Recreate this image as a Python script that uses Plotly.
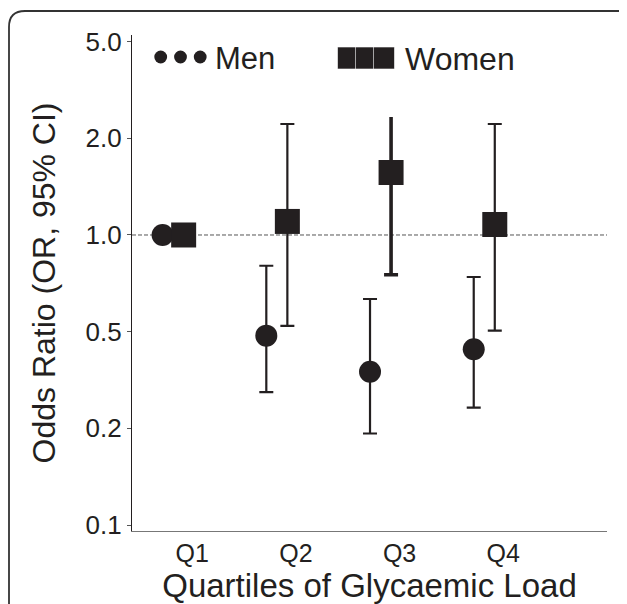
import plotly.graph_objects as go

# ---- data ----
quartiles = ["Q1", "Q2", "Q3", "Q4"]
men_or = [1.0, 0.486, 0.375, 0.441]
men_lo = [1.0, 0.324, 0.241, 0.290]
men_hi = [1.0, 0.802, 0.632, 0.740]
women_or = [1.0, 1.102, 1.565, 1.078]
women_lo = [1.0, 0.521, 0.752, 0.504]
women_hi = [1.0, 2.216, 2.330, 2.216]
# axis ticks (drawn on a log-2 spaced scale, labelled as in the original)
ytick_vals = [0.125, 0.25, 0.5, 1.0, 2.0, 4.0]
ytick_text = ["0.1", "0.2", "0.5", "1.0", "2.0", "5.0"]
legend_names = ["Men", "Women"]

# ---- styling / layout ----
PAGE = 8  # default body margin of the html page
W, H = 627 - PAGE, 604 - PAGE
L, R, T, B = 132 - PAGE, 20, 35 - PAGE, 73
PW, PH = W - L - R, H - T - B
INK = "#231f20"
FONT = "Liberation Sans, Arial, Helvetica, sans-serif"
men_off, women_off = -0.285, -0.082

def px(x):  # page pixel -> paper
    return (x - PAGE - L) / PW

def py(y):
    return (H - B - (y - PAGE)) / PH

xs = list(range(1, len(quartiles) + 1))
x_men = [x + men_off for x in xs]
x_women = [x + women_off for x in xs]

def up(v, hi):
    return [h - o for o, h in zip(v, hi)]

def dn(v, lo):
    return [o - l for o, l in zip(v, lo)]

fig = go.Figure()

# thick CI for women Q3 (upper part has no cap in the original)
i3 = 2
fig.add_trace(go.Scatter(
    x=[x_women[i3]], y=[women_or[i3]], mode="markers",
    marker=dict(size=1, opacity=0), showlegend=False, hoverinfo="skip",
    error_y=dict(type="data", symmetric=False,
                 array=[women_hi[i3] - women_or[i3]], arrayminus=[0],
                 color=INK, thickness=3.6, width=0)))
fig.add_trace(go.Scatter(
    x=[x_women[i3]], y=[women_or[i3]], mode="markers",
    marker=dict(size=1, opacity=0), showlegend=False, hoverinfo="skip",
    error_y=dict(type="data", symmetric=False,
                 array=[0], arrayminus=[women_or[i3] - women_lo[i3]],
                 color=INK, thickness=3.6, width=7)))

w_up = up(women_or, women_hi)
w_dn = dn(women_or, women_lo)
w_up[i3] = 0
w_dn[i3] = 0

fig.add_trace(go.Scatter(
    x=x_men, y=men_or, mode="markers", name=legend_names[0],
    marker=dict(symbol="circle", size=22, color=INK),
    error_y=dict(type="data", symmetric=False,
                 array=up(men_or, men_hi), arrayminus=dn(men_or, men_lo),
                 color=INK, thickness=2.2, width=7),
    showlegend=False))
fig.add_trace(go.Scatter(
    x=x_women, y=women_or, mode="markers", name=legend_names[1],
    marker=dict(symbol="square", size=25, color=INK),
    error_y=dict(type="data", symmetric=False,
                 array=w_up, arrayminus=w_dn,
                 color=INK, thickness=2.2, width=7),
    showlegend=False))

shapes = []
# reference line at OR = 1
shapes.append(dict(type="line", xref="paper", yref="y", x0=0, x1=1, y0=1.0, y1=1.0,
                   line=dict(color="#555555", width=1, dash="4px,2px"), layer="below"))
# outer rounded frame (top-left corner visible)
fx, fy, rr = 9, 11, 16
path = (f"M {px(fx)} {py(H + 40)} L {px(fx)} {py(fy + rr)} "
        f"Q {px(fx)} {py(fy)} {px(fx + rr)} {py(fy)} L {px(W + 40)} {py(fy)}")
shapes.append(dict(type="path", xref="paper", yref="paper", path=path,
                   line=dict(color="#333333", width=1.8)))
# legend symbols
for cx in [160.7, 180.5, 200.2]:
    shapes.append(dict(type="circle", xref="paper", yref="paper",
                       xsizemode="pixel", ysizemode="pixel",
                       xanchor=px(cx), yanchor=py(57),
                       x0=-6.4, x1=6.4, y0=-6.4, y1=6.4,
                       fillcolor=INK, line=dict(width=0)))
for cx in [348, 366, 384]:
    shapes.append(dict(type="rect", xref="paper", yref="paper",
                       xsizemode="pixel", ysizemode="pixel",
                       xanchor=px(cx), yanchor=py(58),
                       x0=-10.5, x1=10.5, y0=-11, y1=11,
                       fillcolor=INK, line=dict(color="white", width=0.6)))

annotations = [
    dict(text=legend_names[0], xref="paper", yref="paper", x=px(213), y=py(59),
         xanchor="left", yanchor="middle", showarrow=False,
         font=dict(size=31, color=INK, family=FONT)),
    dict(text=legend_names[1], xref="paper", yref="paper", x=px(403), y=py(59),
         xanchor="left", yanchor="middle", showarrow=False,
         font=dict(size=32, color=INK, family=FONT)),
]

fig.update_layout(
    width=W, height=H,
    margin=dict(l=L, r=R, t=T, b=B, autoexpand=False),
    paper_bgcolor="white", plot_bgcolor="white",
    font=dict(family=FONT, color=INK),
    shapes=shapes, annotations=annotations,
    showlegend=False,
    xaxis=dict(range=[0.42, 5.0], tickmode="array", tickvals=xs, ticktext=quartiles,
               showgrid=False, zeroline=False, showline=True, linecolor="#777777",
               linewidth=1.2, ticks="", tickfont=dict(size=25, color=INK),
               title=dict(text="Quartiles of Glycaemic Load",
                          font=dict(size=33, color=INK), standoff=1),
               fixedrange=True),
    yaxis=dict(type="log", range=[-0.9215, 0.6226], tickmode="array",
               tickvals=ytick_vals, ticktext=ytick_text,
               showgrid=False, zeroline=False, showline=True, linecolor=INK,
               linewidth=1.2, ticks="outside", ticklen=4, tickcolor="#555555",
               tickfont=dict(size=26, color=INK),
               title=dict(text="Odds Ratio (OR, 95% CI)",
                          font=dict(size=32, color=INK), standoff=20),
               fixedrange=True),
)

fig.write_html("out.html")
